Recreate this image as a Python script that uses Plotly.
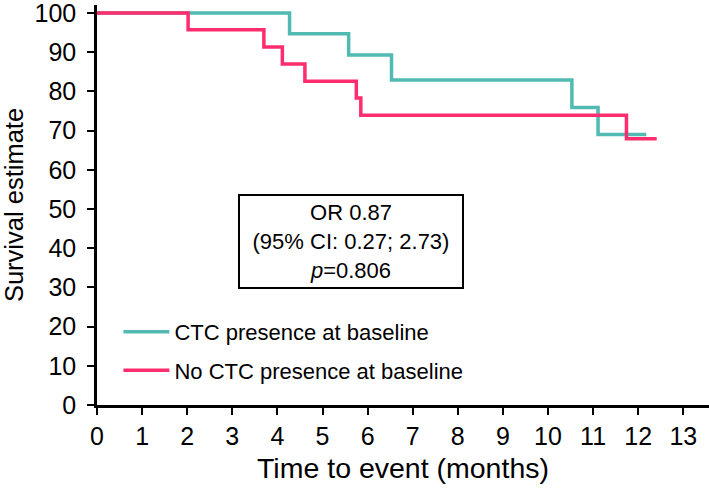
import plotly.graph_objects as go

# Kaplan-Meier style step data
ctc_time = [0, 4.27, 5.58, 6.53, 10.53, 11.11, 12.18]
ctc_surv = [100, 94.7, 89.3, 82.9, 75.9, 69.0, 69.0]

no_ctc_time = [0, 2.02, 3.70, 4.11, 4.61, 5.75, 5.85, 11.74, 12.41]
no_ctc_surv = [100, 95.7, 91.3, 87.0, 82.6, 78.3, 73.9, 67.9, 67.9]

x_ticks = list(range(0, 14))
y_ticks = list(range(0, 101, 10))

stats_text = "OR 0.87<br>(95% CI: 0.27; 2.73)<br><i>p</i>=0.806"

teal = "#50bab3"
pink = "#ff2d6d"
font_family = "Liberation Sans, Arial, sans-serif"

fig = go.Figure()

fig.add_trace(go.Scatter(x=ctc_time, y=ctc_surv, mode="lines", line_shape="hv",
                         line=dict(color=teal, width=3.5), legendgroup="a",
                         name="CTC presence at baseline"))
fig.add_trace(go.Scatter(x=no_ctc_time, y=no_ctc_surv, mode="lines", line_shape="hv",
                         line=dict(color=pink, width=3.5), legendgroup="b",
                         name="No CTC presence at baseline"))

# stats box
fig.add_annotation(x=5.63, y=41.8, xref="x", yref="y", text=stats_text,
                   showarrow=False, align="center",
                   font=dict(size=22, color="black", family=font_family),
                   bordercolor="black", borderwidth=2, borderpad=3,
                   width=216, height=85, bgcolor="white")

fig.update_xaxes(range=[0, 13.57], tickvals=x_ticks, ticks="outside", ticklen=7,
                 tickwidth=2, tickcolor="black", showline=True, linecolor="black",
                 linewidth=2.5, showgrid=False, zeroline=False, automargin=False,
                 ticklabeloverflow="allow",
                 tickfont=dict(size=25, color="black"),
                 title=dict(text="Time to event (months)", font=dict(size=28.5, color="black"),
                            standoff=10))
fig.update_yaxes(range=[0, 102.04], tickvals=y_ticks, ticks="outside", ticklen=7,
                 tickwidth=2, tickcolor="black", showline=True, linecolor="black",
                 linewidth=2.5, showgrid=False, zeroline=False, automargin=False,
                 ticklabeloverflow="allow",
                 tickfont=dict(size=25, color="black"), ticklabelstandoff=6,
                 title=dict(text="Survival estimate", font=dict(size=25.5, color="black"),
                            standoff=14))

fig.update_layout(
    width=709, height=497,
    margin=dict(l=97, r=0, t=5, b=92),
    plot_bgcolor="white", paper_bgcolor="white",
    font=dict(family=font_family, color="black"),
    showlegend=True,
    legend=dict(x=0.035, y=0.134, xanchor="left", yanchor="middle",
                font=dict(size=22, color="black"), bgcolor="rgba(0,0,0,0)",
                itemwidth=46, tracegroupgap=7),
)

# drop the default 8px body margin so the figure fills the window
fig.write_html("out.html", config={"displayModeBar": False},
               post_script="document.body.style.margin='0';")
